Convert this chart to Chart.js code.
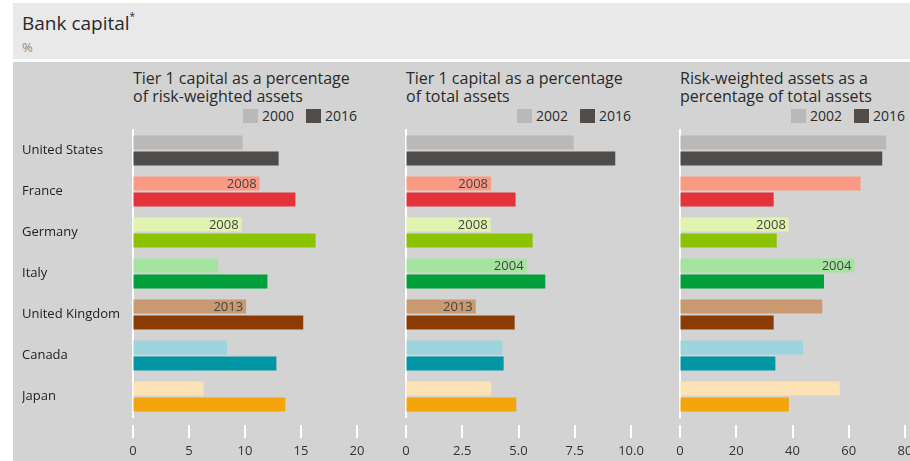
<!DOCTYPE html>
<html>
<head>
<meta charset="utf-8">
<script src="https://cdn.jsdelivr.net/npm/chart.js@4.4.1/dist/chart.umd.min.js"></script>
<style>
  html, body { margin:0; padding:0; width:910px; height:461px; overflow:hidden; background:#fff; font-family:"Open Sans", sans-serif; }
  #topband { position:absolute; left:13px; top:3px; width:897px; height:56px; background:#e9e9e9; }
  #panel { position:absolute; left:13px; top:62px; width:897px; height:399px; background:#d3d3d3; }
  #maintitle { position:absolute; left:22px; top:10px; font-size:19px; line-height:19px; color:#2a2a2a; white-space:nowrap; }
  #maintitle sup { font-size:10px; position:relative; top:-3px; }
  #unit { position:absolute; left:22px; top:41px; font-size:13px; line-height:13px; color:#8a8a8a; }
  .ptitle { position:absolute; top:69px; font-size:16px; line-height:18px; color:#2a2a2a; white-space:nowrap; }
  .legend { position:absolute; top:109px; height:14px; display:flex; align-items:center; font-size:14px; line-height:14px; color:#2a2a2a; white-space:nowrap; }
  .legend .box { width:15px; height:14px; margin-right:4px; }
  .legend .gap { width:12px; }
  .wrap { position:absolute; top:125px; height:336px; }
</style>
</head>
<body>
<div id="topband"></div>
<div id="panel"></div>
<div id="maintitle">Bank capital<sup>*</sup></div>
<div id="unit">%</div>

<div class="ptitle" style="left:133px">Tier 1 capital as a percentage<br>of risk-weighted assets</div>
<div class="ptitle" style="left:406px">Tier 1 capital as a percentage<br>of total assets</div>
<div class="ptitle" style="left:680px">Risk-weighted assets as a<br>percentage of total assets</div>

<div class="legend" id="leg1" style="right:553px"></div>
<div class="legend" id="leg2" style="right:279px"></div>
<div class="legend" id="leg3" style="right:5px"></div>

<div class="wrap" style="left:22px;width:358px"><canvas id="c1"></canvas></div>
<div class="wrap" style="left:395px;width:260px"><canvas id="c2"></canvas></div>
<div class="wrap" style="left:669px;width:261px"><canvas id="c3"></canvas></div>

<script>
// ---------- data ----------
const countries = ['United States', 'France', 'Germany', 'Italy', 'United Kingdom', 'Canada', 'Japan'];

// Panel 1: Tier 1 capital as % of risk-weighted assets
const tier1RwaSeriesNames = ['2000', '2016'];
const tier1RwaEarly = [9.8, 11.3, 9.7, 7.6, 10.1, 8.4, 6.3];
const tier1Rwa2016  = [13.0, 14.5, 16.3, 12.0, 15.2, 12.8, 13.6];
const tier1RwaYearNotes = ['', '2008', '2008', '', '2013', '', ''];
const tier1RwaTicks = [0, 5, 10, 15, 20];
const tier1RwaTickLabels = ['0', '5', '10', '15', '20'];

// Panel 2: Tier 1 capital as % of total assets
const tier1TaSeriesNames = ['2002', '2016'];
const tier1TaEarly = [7.45, 3.78, 3.76, 5.36, 3.1, 4.28, 3.79];
const tier1Ta2016  = [9.3, 4.87, 5.63, 6.19, 4.83, 4.34, 4.9];
const tier1TaYearNotes = ['', '2008', '2008', '2004', '2013', '', ''];
const tier1TaTicks = [0, 2.5, 5, 7.5, 10];
const tier1TaTickLabels = ['0', '2.5', '5.0', '7.5', '10.0'];

// Panel 3: Risk-weighted assets as % of total assets
const rwaTaSeriesNames = ['2002', '2016'];
const rwaTaEarly = [73.3, 64.2, 38.7, 62.0, 50.6, 43.8, 56.8];
const rwaTa2016  = [71.9, 33.3, 34.4, 51.2, 33.3, 33.9, 38.7];
const rwaTaYearNotes = ['', '', '2008', '2004', '', '', ''];
const rwaTaTicks = [0, 20, 40, 60, 80];
const rwaTaTickLabels = ['0', '20', '40', '60', '80'];

// colours per country (light = earlier year, dark = 2016)
const lightColors = ['#b9b9b9', '#fb9a84', '#e1f3b1', '#a5e3a0', '#c9996f', '#9dd5df', '#fde2b5'];
const darkColors  = ['#504c49', '#e3323a', '#8cc300', '#00a13c', '#8b3c05', '#0097a4', '#f4a50c'];

// ---------- helpers ----------
const FONT = '"Open Sans", sans-serif';

const tickMarks = {
  id: 'tickMarks',
  afterDraw(chart) {
    const { ctx, chartArea, scales: { x } } = chart;
    ctx.save();
    ctx.strokeStyle = '#ffffff';
    ctx.lineWidth = 2;
    x.ticks.forEach((t, i) => {
      const px = Math.round(x.getPixelForTick(i));
      ctx.beginPath();
      ctx.moveTo(px, chartArea.bottom + 8);
      ctx.lineTo(px, chartArea.bottom + 21);
      ctx.stroke();
    });
    ctx.restore();
  }
};

const yearNotes = {
  id: 'yearNotes',
  afterDatasetsDraw(chart, args, opts) {
    const notes = opts.notes || [];
    const meta = chart.getDatasetMeta(0);
    const { ctx } = chart;
    ctx.save();
    ctx.font = '13px ' + FONT;
    ctx.fillStyle = '#444';
    ctx.textAlign = 'right';
    ctx.textBaseline = 'middle';
    meta.data.forEach((bar, i) => {
      if (notes[i]) ctx.fillText(notes[i], bar.x - 3, bar.y + 0.5);
    });
    ctx.restore();
  }
};

function buildLegend(id, names) {
  const el = document.getElementById(id);
  el.innerHTML =
    '<span class="box" style="background:#b9b9b9"></span><span>' + names[0] + '</span>' +
    '<span class="gap"></span>' +
    '<span class="box" style="background:#504c49"></span><span>' + names[1] + '</span>';
}

function makeChart(canvasId, cfg) {
  return new Chart(document.getElementById(canvasId), {
    type: 'bar',
    data: {
      labels: countries,
      datasets: [
        { label: cfg.names[0], data: cfg.early, backgroundColor: lightColors, borderWidth: 0 },
        { label: cfg.names[1], data: cfg.late, backgroundColor: darkColors, borderWidth: 0 }
      ]
    },
    options: {
      indexAxis: 'y',
      responsive: true,
      maintainAspectRatio: false,
      animation: false,
      layout: { padding: { top: 5, right: cfg.padRight, left: 0, bottom: 0 } },
      datasets: { bar: { barPercentage: 0.875, categoryPercentage: 0.778 } },
      plugins: {
        legend: { display: false },
        tooltip: { enabled: false },
        yearNotes: { notes: cfg.notes }
      },
      scales: {
        x: {
          type: 'linear',
          position: 'bottom',
          min: cfg.ticks[0],
          max: cfg.ticks[cfg.ticks.length - 1],
          afterBuildTicks: s => { s.ticks = cfg.ticks.map(v => ({ value: v })); },
          afterFit: s => { s.height = 44; },
          border: { display: false },
          grid: { display: true, drawOnChartArea: false, drawTicks: true, tickLength: 22, color: 'rgba(0,0,0,0)' },
          ticks: {
            padding: 4,
            color: '#333',
            font: { family: FONT, size: 13 },
            maxRotation: 0,
            callback: (v, i) => cfg.tickLabels[i]
          }
        },
        y: {
          position: 'left',
          afterFit: s => { s.width = cfg.yWidth; s.paddingTop = 0; s.paddingBottom = 0; },
          border: { display: true, color: '#ffffff', width: 2 },
          grid: { display: false },
          ticks: {
            display: cfg.showLabels,
            crossAlign: 'far',
            color: '#222',
            font: { family: FONT, size: 13, weight: '500' }
          }
        }
      }
    },
    plugins: [tickMarks, yearNotes]
  });
}

buildLegend('leg1', tier1RwaSeriesNames);
buildLegend('leg2', tier1TaSeriesNames);
buildLegend('leg3', rwaTaSeriesNames);

makeChart('c1', { names: tier1RwaSeriesNames, early: tier1RwaEarly, late: tier1Rwa2016, notes: tier1RwaYearNotes,
  ticks: tier1RwaTicks, tickLabels: tier1RwaTickLabels, padRight: 23, yWidth: 111, showLabels: true });
makeChart('c2', { names: tier1TaSeriesNames, early: tier1TaEarly, late: tier1Ta2016, notes: tier1TaYearNotes,
  ticks: tier1TaTicks, tickLabels: tier1TaTickLabels, padRight: 24, yWidth: 11, showLabels: false });
makeChart('c3', { names: rwaTaSeriesNames, early: rwaTaEarly, late: rwaTa2016, notes: rwaTaYearNotes,
  ticks: rwaTaTicks, tickLabels: rwaTaTickLabels, padRight: 25, yWidth: 11, showLabels: false });
</script>
</body>
</html>
